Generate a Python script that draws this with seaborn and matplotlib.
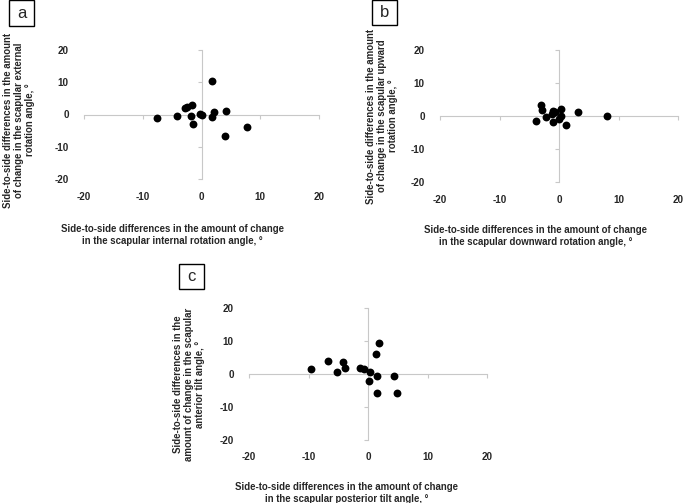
import matplotlib
matplotlib.use("Agg")
import matplotlib.pyplot as plt
from matplotlib.patches import Rectangle
import seaborn as sns
import pandas as pd

# ------------------- data -------------------
a_x = [-7.6, -4.1, -2.8, -2.4, -1.7, -1.8, -1.5, -0.3, 0.1, 1.8, 2.2, 1.8, 4.1, 4.0, 7.7]
a_y = [-1.0, -0.4, 1.9, 2.3, 2.8, -0.4, -3.1, 0.3, -0.3, 10.5, 0.8, -0.8, 1.0, -6.7, -3.8]

b_x = [-3.1, -2.9, -3.8, -2.2, -1.0, -0.6, 0.3, -1.0, 0.0, 0.3, 1.1, 3.2, 8.0, -1.2]
b_y = [3.3, 1.8, -1.4, -0.4, 1.5, 1.3, 2.0, -1.9, -0.9, 0.1, -2.7, 1.1, 0.0, 0.5]

c_x = [-9.6, -6.7, -5.2, -4.2, -3.9, -1.3, -0.7, 0.4, 0.2, 1.5, 1.4, 1.9, 1.5, 4.3, 4.9]
c_y = [1.5, 3.9, 0.5, 3.6, 1.8, 1.8, 1.6, 0.5, -2.2, -0.7, 6.1, 9.4, -5.7, -0.7, -5.7]

ticks = [-20, -10, 0, 10, 20]

x_labels = [
    "Side-to-side differences in the amount of change\nin the scapular internal rotation angle, °",
    "Side-to-side differences in the amount of change\nin the scapular downward rotation angle, °",
    "Side-to-side differences in the amount of change\nin the scapular posterior tilt angle, °",
]
y_labels = [
    "Side-to-side differences in the amount\nof change in the scapular external\nrotation angle, °",
    "Side-to-side differences in the amount\nof change in the scapular upward\nrotation angle, °",
    "Side-to-side differences in the\namount of change in the scapular\nanterior tilt angle, °",
]
panel_tags = ["a", "b", "c"]

# ------------------- layout -------------------
W, H = 685, 503
sns.set_theme(style="white")
plt.rcParams["font.family"] = ["Liberation Sans", "DejaVu Sans"]

fig = plt.figure(figsize=(W / 100, H / 100), dpi=100)

# axes boxes in pixels: left, top, right, bottom
boxes = [(84, 50, 319, 179), (440, 50, 678, 182), (249, 308, 487, 440)]
xlab_pos = [(0.375, -0.349), (0.40, -0.326), (0.41, -0.318)]
ylab_pos = [(-0.277, 0.457), (-0.244, 0.5), (-0.252, 0.424)]
tag_boxes = [(9, 0, 34, 26), (372, 0, 397, 25), (179, 264, 204, 289)]

grey = "#c8c8c8"
fs = 6.9
tfs = 7.1

datasets = [(a_x, a_y), (b_x, b_y), (c_x, c_y)]

for i, (xs, ys) in enumerate(datasets):
    l, t, r, b = boxes[i]
    ax = fig.add_axes([l / W, 1 - b / H, (r - l) / W, (b - t) / H])
    df = pd.DataFrame({"x": xs, "y": ys})
    sns.scatterplot(data=df, x="x", y="y", ax=ax, color="black", s=32,
                    edgecolor="black", linewidth=0, zorder=3, clip_on=False)
    ax.set_xlim(-20, 20)
    ax.set_ylim(-20, 20)
    ax.set_xticks(ticks)
    ax.set_yticks(ticks)
    ax.set_facecolor("none")

    # axes crossing at the origin
    for side in ["top", "right"]:
        ax.spines[side].set_visible(False)
    ax.spines["left"].set_position(("data", 0))
    ax.spines["bottom"].set_position(("data", 0))
    ax.spines["left"].set_color(grey)
    ax.spines["bottom"].set_color(grey)
    ax.spines["left"].set_linewidth(0.8)
    ax.spines["bottom"].set_linewidth(0.8)
    ax.tick_params(axis="both", direction="out", length=3, width=0.8, color=grey,
                   labelbottom=False, labelleft=False, bottom=True, left=True)

    # axis titles, placed relative to the plot box
    ax.set_xlabel(x_labels[i], fontsize=fs, fontweight="bold", linespacing=1.2)
    ax.xaxis.set_label_coords(*xlab_pos[i])
    ax.set_ylabel(y_labels[i], fontsize=fs, fontweight="bold", linespacing=1.15,
                  va="center")
    ax.yaxis.set_label_coords(*ylab_pos[i])

    # tick labels at the outer edge
    sx = ax.secondary_xaxis("bottom")
    sx.set_xticks(ticks)
    sx.set_xticklabels([str(v) for v in ticks], fontsize=tfs, fontweight="bold")
    sx.tick_params(length=0, pad=9)
    sx.spines["bottom"].set_visible(False)

    sy = ax.secondary_yaxis("left")
    sy.set_yticks(ticks)
    sy.set_yticklabels([str(v) for v in ticks], fontsize=tfs, fontweight="bold")
    sy.tick_params(length=0, pad=11)
    sy.spines["left"].set_visible(False)

    # panel tag
    x0, y0, x1, y1 = tag_boxes[i]
    fig.add_artist(Rectangle((x0 / W, 1 - y1 / H), (x1 - x0) / W, (y1 - y0) / H,
                             transform=fig.transFigure, fill=False,
                             edgecolor="black", linewidth=1.0))
    fig.text((x0 + x1) / 2 / W, 1 - (y0 + y1) / 2 / H, panel_tags[i],
             ha="center", va="center", fontsize=12)

fig.savefig("out.png", dpi=100)
